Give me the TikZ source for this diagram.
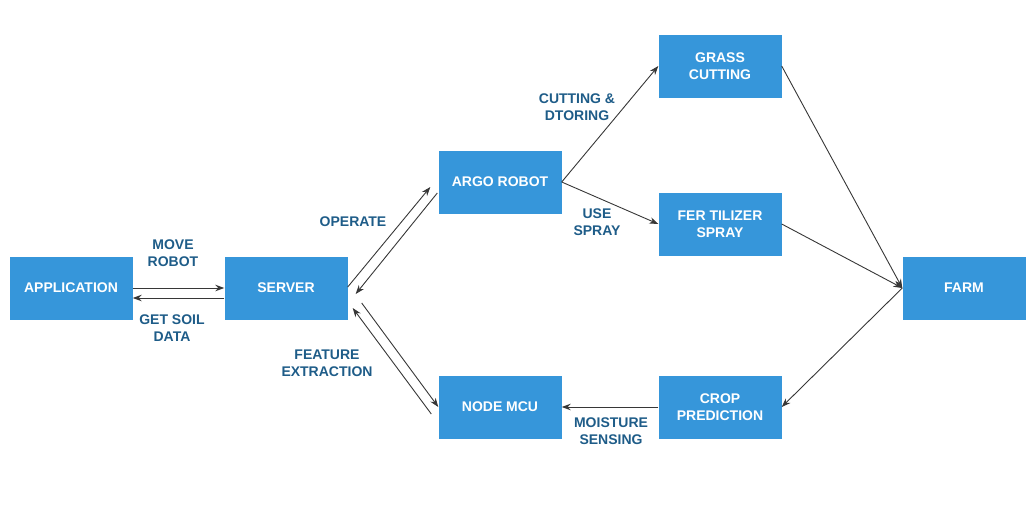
\documentclass[tikz,border=0pt]{standalone}
\usepackage{fontspec}
\setmainfont{Liberation Sans}
\usetikzlibrary{arrows.meta}
\definecolor{boxblue}{RGB}{54,150,218}
\definecolor{labelblue}{RGB}{30,92,136}
\definecolor{linegray}{RGB}{55,55,55}
\tikzstyle{block}=[fill=boxblue,text=white,minimum width=123pt,minimum height=63pt,inner sep=0pt,align=center,font=\fontsize{14}{17.5}\selectfont\bfseries]
\tikzstyle{lbl}=[text=labelblue,align=center,inner sep=0pt,font=\fontsize{14}{17.5}\selectfont\bfseries]
\tikzstyle{link}=[draw=linegray,line width=0.9pt,-{Stealth[length=9pt,width=6.5pt]}]

\begin{document}
\begin{tikzpicture}[x=1pt, y=-1pt]
	\useasboundingbox (0,0) rectangle (1036,512);
	% boxes
	\node[block] (app) at (71,288) {APPLICATION};
	\node[block] (server) at (286,288) {SERVER};
	\node[block] (argo) at (500,182) {ARGO ROBOT};
	\node[block] (mcu) at (500,407) {NODE MCU};
	\node[block] (grass) at (720,66) {GRASS\\CUTTING};
	\node[block] (fert) at (720,224) {FER TILIZER\\SPRAY};
	\node[block] (crop) at (720,407) {CROP\\PREDICTION};
	\node[block] (farm) at (964,288) {FARM};
	% labels
	\node[lbl] (moverobot) at (173,253) {MOVE\\ROBOT};
	\node[lbl] (getsoil) at (172,328) {GET SOIL\\DATA};
	\node[lbl] (operate) at (353,222) {OPERATE};
	\node[lbl] (feature) at (327,363) {FEATURE\\EXTRACTION};
	\node[lbl] (cutting) at (577,107) {CUTTING \&\\DTORING};
	\node[lbl] (usespray) at (597,222) {USE\\SPRAY};
	\node[lbl] (moisture) at (611,431) {MOISTURE\\SENSING};
	% links
	\draw[link] (app.east) -- (server.west);
	\draw[link] ([yshift=-10pt]server.west) -- ([yshift=-10pt]app.east);
	\draw[link] ([yshift=1pt]server.east) -- ([xshift=-8pt,yshift=-5pt]argo.west);
	\draw[link] ([xshift=-1pt,yshift=-11pt]argo.west) -- ([xshift=8pt,yshift=-6pt]server.east);
	\draw[link] ([xshift=14pt,yshift=-15pt]server.east) -- (mcu.west);
	\draw[link] ([xshift=-7pt,yshift=-7pt]mcu.west) -- ([xshift=5pt,yshift=-20pt]server.east);
	\draw[link] (argo.east) -- (grass.west);
	\draw[link] (argo.east) -- (fert.west);
	\draw[link] (grass.east) -- (farm.west);
	\draw[link] (fert.east) -- (farm.west);
	\draw[link] (farm.west) -- (crop.east);
	\draw[link] (crop.west) -- (mcu.east);
\end{tikzpicture}
\end{document}
